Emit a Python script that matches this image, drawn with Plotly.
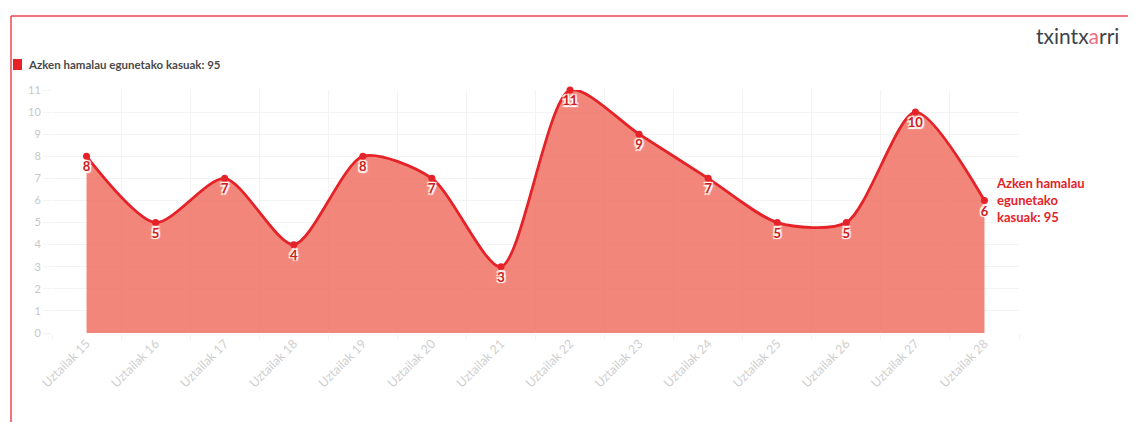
import plotly.graph_objects as go

categories = ["Uztailak 15", "Uztailak 16", "Uztailak 17", "Uztailak 18", "Uztailak 19",
              "Uztailak 20", "Uztailak 21", "Uztailak 22", "Uztailak 23", "Uztailak 24",
              "Uztailak 25", "Uztailak 26", "Uztailak 27", "Uztailak 28"]
cases = [8, 5, 7, 4, 8, 7, 3, 11, 9, 7, 5, 5, 10, 6]
series_name = "Azken hamalau egunetako kasuak: 95"
end_label_lines = ["Azken hamalau", "egunetako", "kasuak: 95"]
y_ticks = list(range(0, 12))

OFF = 8  # page body margin
W, H = 1136 - OFF, 422 - OFF
PL, PR, PT, PB = 52, 1019, 90, 333
L, R, T, B = PL - OFF, (W + OFF) - PR, PT - OFF, (H + OFF) - PB

RED = "rgb(228,34,40)"
GRID = "rgb(243,243,243)"

fig = go.Figure()
fig.add_trace(go.Scatter(
    x=categories, y=cases,
    mode="lines+markers+text",
    line=dict(color=RED, width=2.8, shape="spline", smoothing=0.75),
    marker=dict(color=RED, size=7),
    fill="tozeroy", fillcolor="rgba(238,100,85,0.78)",
    text=[str(v) for v in cases], textposition="bottom center",
    textfont=dict(family="Lato", size=13, weight="bold", color="rgb(205,30,30)",
                  shadow="1.5px 1.5px 1px white, -1.5px -1.5px 1px white, 1.5px -1.5px 1px white, -1.5px 1.5px 1px white"),
    cliponaxis=False, showlegend=False, hoverinfo="x+y",
))

pw = PR - PL
ph = PB - PT
def px(xp):
    return (xp - PL) / pw
def py(yp):
    return (PB - yp) / ph

shapes = [
    dict(type="line", xref="paper", yref="paper", x0=px(11), x1=px(11), y0=py(16), y1=py(440),
         line=dict(color="rgb(240,70,80)", width=1.5)),
    dict(type="line", xref="paper", yref="paper", x0=px(11), x1=px(1150), y0=py(16), y1=py(16),
         line=dict(color="rgb(240,70,80)", width=1.5)),
    dict(type="rect", xref="paper", yref="paper", x0=px(13), x1=px(22), y0=py(70), y1=py(59),
         fillcolor=RED, line=dict(width=0)),
]

annotations = [
    dict(xref="paper", yref="paper", x=px(26), y=py(64), xanchor="left", yanchor="middle",
         text=series_name, showarrow=False,
         font=dict(family="Lato", size=11.5, weight="bold", color="#4a4a4a")),
    dict(xref="paper", yref="paper", x=px(1121), y=py(36), xanchor="right", yanchor="middle",
         text="txintx<span style='color:rgb(235,110,130)'>a</span>rri", showarrow=False,
         font=dict(family="Lato", size=21, weight=400, color="#3b434d")),
    dict(x=categories[-1], y=cases[-1], xref="x", yref="y", xanchor="left", yanchor="middle",
         xshift=10, text="<br>".join(end_label_lines), align="left", showarrow=False,
         font=dict(family="Lato", size=13, weight="bold", color=RED)),
]

fig.update_layout(
    width=W, height=H,
    margin=dict(l=L, r=R, t=T, b=B, pad=0),
    paper_bgcolor="white", plot_bgcolor="white",
    shapes=shapes, annotations=annotations,
    xaxis=dict(type="category", range=[-0.5, 13.5], tickson="boundaries",
               showgrid=True, gridcolor=GRID, gridwidth=1,
               ticks="outside", ticklen=6, tickcolor=GRID,
               tickangle=-45, tickfont=dict(family="Lato", size=12.5, color="#cfcfcf"),
               zeroline=False, showline=False, fixedrange=True),
    yaxis=dict(range=[0, 11], tickvals=y_ticks, showgrid=True, gridcolor=GRID, gridwidth=1,
               ticks="outside", ticklen=8, tickcolor=GRID,
               tickfont=dict(family="Lato", size=11, color="#c8c8c8"),
               zeroline=False, showline=False, fixedrange=True),
    hovermode="closest",
)

fig.write_html("out.html")
